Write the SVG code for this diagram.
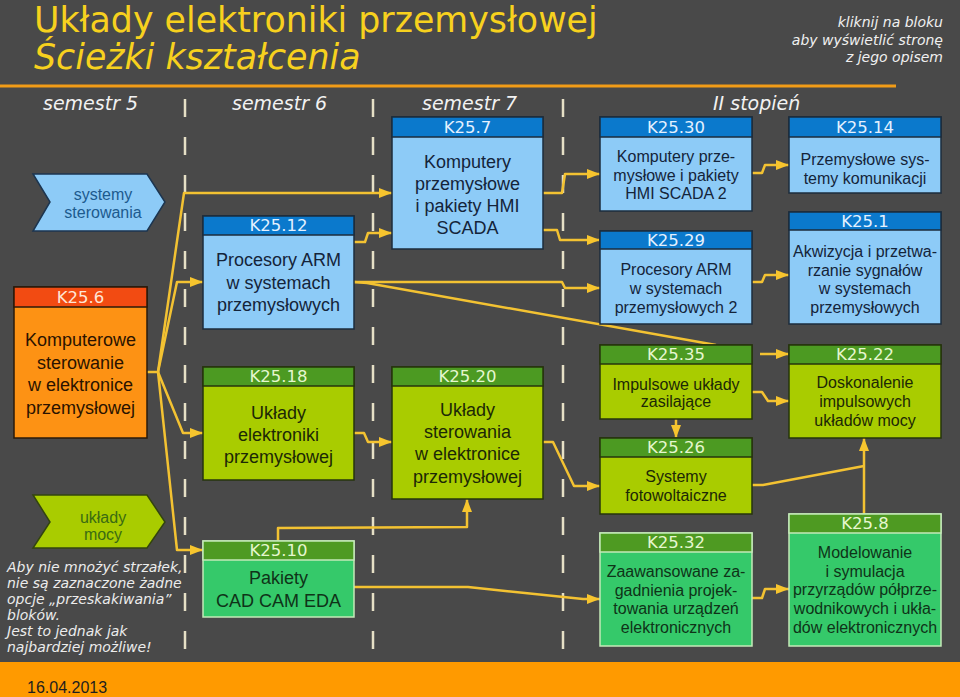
<svg xmlns="http://www.w3.org/2000/svg" width="960" height="697" viewBox="0 0 960 697">
<style>
.ti{font-family:"DejaVu Sans",Verdana,sans-serif;font-size:34.8px;fill:#f7d11e}
.sem{font-family:"DejaVu Sans",Verdana,sans-serif;font-size:19px;font-style:italic;fill:#f2f2f2}
.hint{font-family:"DejaVu Sans",Verdana,sans-serif;font-size:14px;font-style:italic;fill:#f0f0f0;text-anchor:end}
.note{font-family:"DejaVu Sans",Verdana,sans-serif;font-size:14px;font-style:italic;fill:#ececec}
.h{font-family:"DejaVu Sans",Verdana,sans-serif;font-size:16.5px;text-anchor:middle}
.b{font-family:"Liberation Sans",Arial,sans-serif;font-size:18px;text-anchor:middle}
.s{font-size:16px}
.bb{fill:#8dcbf7;stroke:#1c2c3c;stroke-width:1.5}
.bh{fill:#0b79cc;stroke:#1c2c3c;stroke-width:1.5}
.hb{fill:#e4f1ff}
.tb{fill:#14243a}
.ob{fill:#fd9214;stroke:#2a1a0a;stroke-width:1.5}
.oh{fill:#f24b12;stroke:#2a1a0a;stroke-width:1.5}
.ho{fill:#ffe6d6}
.to{fill:#2a1200}
.gb{fill:#a9cc00;stroke:#26340c;stroke-width:1.5}
.gh{fill:#4c9a22;stroke:#26340c;stroke-width:1.5}
.hg{fill:#e6f7cf}
.tg{fill:#1c2806}
.eb{fill:#35c96a;stroke:#c4e9b8;stroke-width:1.5}
.eh{fill:#4e9a22;stroke:#c4e9b8;stroke-width:1.5}
.te{fill:#0f3318}
.dash{stroke:#e6e0c6;stroke-width:2.5;stroke-dasharray:18 20;fill:none}
.c{fill:none;stroke:#f3c232;stroke-width:2.5;stroke-linejoin:round;marker-end:url(#ah)}
.cn{fill:none;stroke:#f3c232;stroke-width:2.5;stroke-linejoin:round}
</style>
<defs>
<marker id="ah" markerUnits="userSpaceOnUse" markerWidth="14" markerHeight="12" refX="13" refY="5" orient="auto">
<path d="M0,0 L13,5 L0,10 z" fill="#f7c52e"/>
</marker>
</defs>
<rect x="0" y="0" width="960" height="697" fill="#494949"/>
<rect x="0" y="662" width="960" height="35" fill="#ff9a00"/>
<line x1="0" y1="86" x2="896" y2="86" stroke="#f29c17" stroke-width="3"/>
<text class="ti" x="34" y="32">Układy elektroniki przemysłowej</text>
<text class="ti" x="34" y="69" font-style="italic">Ścieżki kształcenia</text>
<text class="hint" x="943" y="27">kliknij na bloku</text>
<text class="hint" x="943" y="45">aby wyświetlić stronę</text>
<text class="hint" x="943" y="62">z jego opisem</text>
<text class="sem" x="43" y="110">semestr 5</text>
<text class="sem" x="232" y="110">semestr 6</text>
<text class="sem" x="422" y="110">semestr 7</text>
<text class="sem" x="713" y="110">II stopień</text>
<g id="separators">
<line class="dash" x1="185" y1="99" x2="185" y2="649"/>
<line class="dash" x1="373" y1="99" x2="373" y2="649"/>
<line class="dash" x1="563" y1="99" x2="563" y2="649"/>
</g>
<text x="27" y="693" font-family="Liberation Sans, Arial, sans-serif" font-size="16" fill="#1e1e1e">16.04.2013</text>
<g id="note" class="note">
<text x="7" y="572">Aby nie mnożyć strzałek,</text>
<text x="7" y="588">nie są zaznaczone żadne</text>
<text x="7" y="604">opcje „przeskakiwania”</text>
<text x="7" y="620">bloków.</text>
<text x="7" y="636">Jest to jednak jak</text>
<text x="7" y="652">najbardziej możliwe!</text>
</g>
<g id="connectors">
<path class="c" d="M147,372 L158,372 L184,193 L392,193"/>
<path class="c" d="M158,372 L177,282 L203,282"/>
<path class="c" d="M158,372 L183,433 L203,433"/>
<path class="c" d="M158,372 L177,550 L203,550"/>
<path class="c" d="M354,242 L365,242 L368,233 L392,233"/>
<path class="c" d="M543,193 L562,193 L565,174 L600,174"/>
<path class="c" d="M543,230 L557,230 L560,240 L600,240"/>
<path class="c" d="M354,282 L562,282 L565,288 L600,288"/>
<path class="c" d="M354,282 L367,283 L716,345 M760,354 L789,354"/>
<path class="c" d="M752,173 L762,173 L765,165 L789,165"/>
<path class="c" d="M752,282 L762,282 L765,275 L789,275"/>
<path class="c" d="M354,433 L364,433 L368,442 L392,442"/>
<path class="c" d="M543,442 L553,442 L574,486 L600,486"/>
<path class="c" d="M278,541 L278,528 L467,527 L467,499"/>
<path class="c" d="M354,587 L468,587 L583,599 L600,599"/>
<path class="c" d="M676,419 L676,438"/>
<path class="c" d="M752,392 L762,392 L768,401 L789,401"/>
<path class="cn" d="M752,485 L763,485 L864,466"/>
<path class="c" d="M864,514 L864,438"/>
<path class="c" d="M752,598 L762,598 L765,589 L789,589"/>
</g>
<g id="systemy-sterowania">
<polygon points="33,174 147,174 165,202 147,231 33,231 50,202" fill="#8dcbf7" stroke="#1c3550" stroke-width="1.5"/>
<text class="b s" x="103" y="200" fill="#1c5a8e">systemy</text>
<text class="b s" x="103" y="218" fill="#1c5a8e">sterowania</text>
</g>
<g id="uklady-mocy">
<polygon points="33,495 147,495 165,522 147,548 33,548 50,522" fill="#a9cc00" stroke="#33440f" stroke-width="1.5"/>
<text class="b s" x="103" y="523" fill="#3a6b12">układy</text>
<text class="b s" x="103" y="540" fill="#3a6b12">mocy</text>
</g>
<g id="k25-6">
<rect class="ob" x="14" y="287" width="133" height="151"/>
<rect class="oh" x="14" y="287" width="133" height="20"/>
<text class="h ho" x="80.5" y="303">K25.6</text>
<text class="b to" x="80.5" y="346">Komputerowe</text>
<text class="b to" x="80.5" y="369">sterowanie</text>
<text class="b to" x="80.5" y="391">w elektronice</text>
<text class="b to" x="80.5" y="414">przemysłowej</text>
</g>
<g id="k25-12">
<rect class="bb" x="203" y="216" width="151" height="113"/>
<rect class="bh" x="203" y="216" width="151" height="19"/>
<text class="h hb" x="278.5" y="231">K25.12</text>
<text class="b tb" x="278.5" y="266">Procesory ARM</text>
<text class="b tb" x="278.5" y="289">w systemach</text>
<text class="b tb" x="278.5" y="311">przemysłowych</text>
</g>
<g id="k25-18">
<rect class="gb" x="203" y="367" width="151" height="113"/>
<rect class="gh" x="203" y="367" width="151" height="19"/>
<text class="h hg" x="278.5" y="382">K25.18</text>
<text class="b tg" x="278.5" y="419">Układy</text>
<text class="b tg" x="278.5" y="441">elektroniki</text>
<text class="b tg" x="278.5" y="463">przemysłowej</text>
</g>
<g id="k25-10">
<rect class="eb" x="203" y="541" width="151" height="76"/>
<rect class="eh" x="203" y="541" width="151" height="19"/>
<text class="h hg" x="278.5" y="556">K25.10</text>
<text class="b te" x="278.5" y="584">Pakiety</text>
<text class="b te" x="278.5" y="607">CAD CAM EDA</text>
</g>
<g id="k25-7">
<rect class="bb" x="392" y="117" width="151" height="132"/>
<rect class="bh" x="392" y="117" width="151" height="20"/>
<text class="h hb" x="467.5" y="133">K25.7</text>
<text class="b tb" x="467.5" y="168">Komputery</text>
<text class="b tb" x="467.5" y="190">przemysłowe</text>
<text class="b tb" x="467.5" y="212">i pakiety HMI</text>
<text class="b tb" x="467.5" y="234">SCADA</text>
</g>
<g id="k25-20">
<rect class="gb" x="392" y="367" width="151" height="132"/>
<rect class="gh" x="392" y="367" width="151" height="19"/>
<text class="h hg" x="467.5" y="382">K25.20</text>
<text class="b tg" x="467.5" y="416">Układy</text>
<text class="b tg" x="467.5" y="438">sterowania</text>
<text class="b tg" x="467.5" y="460">w elektronice</text>
<text class="b tg" x="467.5" y="483">przemysłowej</text>
</g>
<g id="k25-30">
<rect class="bb" x="600" y="117" width="152" height="94"/>
<rect class="bh" x="600" y="117" width="152" height="20"/>
<text class="h hb" x="676" y="133">K25.30</text>
<text class="b s tb" x="676" y="162">Komputery prze-</text>
<text class="b s tb" x="676" y="181">mysłowe i pakiety</text>
<text class="b s tb" x="676" y="199">HMI SCADA 2</text>
</g>
<g id="k25-29">
<rect class="bb" x="600" y="231" width="152" height="93"/>
<rect class="bh" x="600" y="231" width="152" height="18"/>
<text class="h hb" x="676" y="246">K25.29</text>
<text class="b s tb" x="676" y="275">Procesory ARM</text>
<text class="b s tb" x="676" y="294">w systemach</text>
<text class="b s tb" x="676" y="313">przemysłowych 2</text>
</g>
<g id="k25-35">
<rect class="gb" x="600" y="345" width="152" height="74"/>
<rect class="gh" x="600" y="345" width="152" height="19"/>
<text class="h hg" x="676" y="360">K25.35</text>
<text class="b s tg" x="676" y="390">Impulsowe układy</text>
<text class="b s tg" x="676" y="407">zasilające</text>
</g>
<g id="k25-26">
<rect class="gb" x="600" y="438" width="152" height="76"/>
<rect class="gh" x="600" y="438" width="152" height="19"/>
<text class="h hg" x="676" y="453">K25.26</text>
<text class="b s tg" x="676" y="482">Systemy</text>
<text class="b s tg" x="676" y="501">fotowoltaiczne</text>
</g>
<g id="k25-32">
<rect class="eb" x="600" y="533" width="152" height="113"/>
<rect class="eh" x="600" y="533" width="152" height="19"/>
<text class="h hg" x="676" y="548">K25.32</text>
<text class="b s te" x="676" y="577">Zaawansowane za-</text>
<text class="b s te" x="676" y="596">gadnienia projek-</text>
<text class="b s te" x="676" y="614">towania urządzeń</text>
<text class="b s te" x="676" y="633">elektronicznych</text>
</g>
<g id="k25-14">
<rect class="bb" x="789" y="117" width="152" height="76"/>
<rect class="bh" x="789" y="117" width="152" height="20"/>
<text class="h hb" x="865" y="133">K25.14</text>
<text class="b s tb" x="865" y="165">Przemysłowe sys-</text>
<text class="b s tb" x="865" y="184">temy komunikacji</text>
</g>
<g id="k25-1">
<rect class="bb" x="789" y="212" width="152" height="112"/>
<rect class="bh" x="789" y="212" width="152" height="18"/>
<text class="h hb" x="865" y="227">K25.1</text>
<text class="b s tb" x="865" y="257">Akwizycja i przetwa-</text>
<text class="b s tb" x="865" y="276">rzanie sygnałów</text>
<text class="b s tb" x="865" y="294">w systemach</text>
<text class="b s tb" x="865" y="313">przemysłowych</text>
</g>
<g id="k25-22">
<rect class="gb" x="789" y="345" width="152" height="93"/>
<rect class="gh" x="789" y="345" width="152" height="19"/>
<text class="h hg" x="865" y="360">K25.22</text>
<text class="b s tg" x="865" y="388">Doskonalenie</text>
<text class="b s tg" x="865" y="407">impulsowych</text>
<text class="b s tg" x="865" y="426">układów mocy</text>
</g>
<g id="k25-8">
<rect class="eb" x="789" y="514" width="152" height="132"/>
<rect class="eh" x="789" y="514" width="152" height="19"/>
<text class="h hg" x="865" y="529">K25.8</text>
<text class="b s te" x="865" y="558">Modelowanie</text>
<text class="b s te" x="865" y="577">i symulacja</text>
<text class="b s te" x="865" y="595">przyrządów półprze-</text>
<text class="b s te" x="865" y="614">wodnikowych i ukła-</text>
<text class="b s te" x="865" y="633">dów elektronicznych</text>
</g>
</svg>
